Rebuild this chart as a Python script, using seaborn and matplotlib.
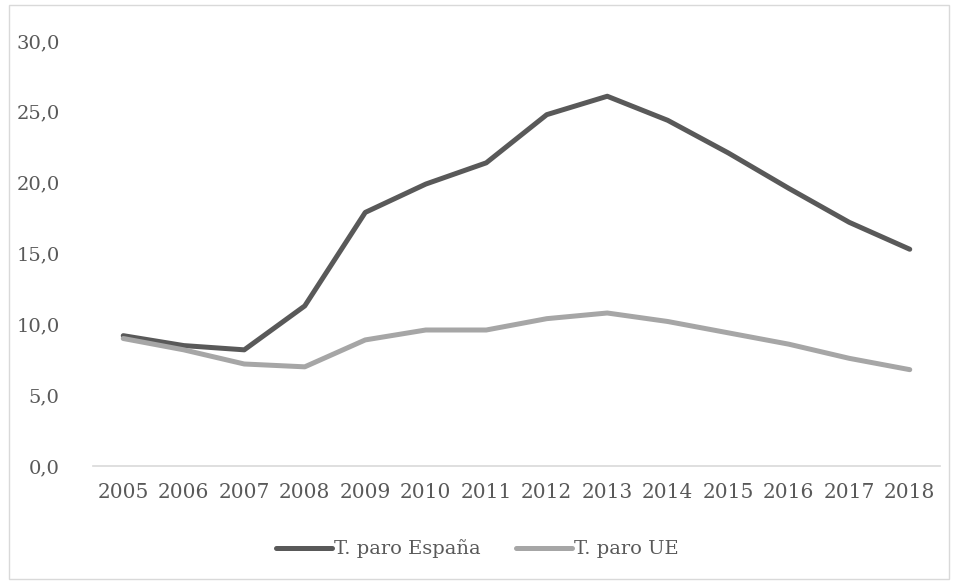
import numpy as np
import pandas as pd
import matplotlib
matplotlib.use("Agg")
import matplotlib.pyplot as plt
import seaborn as sns
from matplotlib.patches import Rectangle
from matplotlib.ticker import FuncFormatter

# tasa de paro (%) 2005-2018
years = ["2005", "2006", "2007", "2008", "2009", "2010", "2011",
         "2012", "2013", "2014", "2015", "2016", "2017", "2018"]
paro_espana = [9.2, 8.5, 8.2, 11.3, 17.9, 19.9, 21.4, 24.8, 26.1, 24.4, 22.1, 19.6, 17.2, 15.3]
paro_ue = [9.0, 8.2, 7.2, 7.0, 8.9, 9.6, 9.6, 10.4, 10.8, 10.2, 9.4, 8.6, 7.6, 6.8]

df = pd.DataFrame({"year": years * 2,
                   "valor": paro_espana + paro_ue,
                   "serie": ["T. paro España"] * len(years) + ["T. paro UE"] * len(years)})

sns.set_theme(style="white")
plt.rcParams['font.family'] = ['DejaVu Serif']
txt = "#595959"
fs = 14.5

fig = plt.figure(figsize=(9.54, 5.81), dpi=100)
ax = fig.add_axes([93/954, 1 - 466/581, (940-93)/954, (466-41)/581])

sns.lineplot(data=df, x="year", y="valor", hue="serie",
             palette={"T. paro España": "#595959", "T. paro UE": "#a6a6a6"},
             linewidth=3.6, sort=False, ax=ax, legend=False)

ax.set_xlim(-0.5, 13.5)
ax.set_ylim(0, 30)
ax.set_yticks(np.arange(0, 31, 5))
ax.yaxis.set_major_formatter(FuncFormatter(lambda v, p: f"{v:.1f}".replace(".", ",")))
ax.set_xlabel("")
ax.set_ylabel("")
for s in ["top", "right", "left"]:
    ax.spines[s].set_visible(False)
ax.spines["bottom"].set_color("#d9d9d9")
ax.spines["bottom"].set_linewidth(1.2)
ax.tick_params(axis="both", length=0, labelsize=fs, colors=txt)
ax.tick_params(axis="y", pad=24, labelsize=14)
ax.tick_params(axis="x", pad=12)

handles = [plt.Line2D([], [], color="#595959", lw=3.6, solid_capstyle="round"),
           plt.Line2D([], [], color="#a6a6a6", lw=3.6, solid_capstyle="round")]
fig.legend(handles, ["T. paro España", "T. paro UE"], loc="center",
           bbox_to_anchor=(0.5, 1 - 549/581), ncol=2, frameon=False,
           fontsize=14, labelcolor=txt, handlelength=2.9, handletextpad=0.1,
           columnspacing=1.8)

fig.patches.append(Rectangle((9/954, 2/581), 940/954, 574/581, transform=fig.transFigure,
                             fill=False, edgecolor="#d9d9d9", linewidth=1))

fig.savefig("out.png", dpi=100)
